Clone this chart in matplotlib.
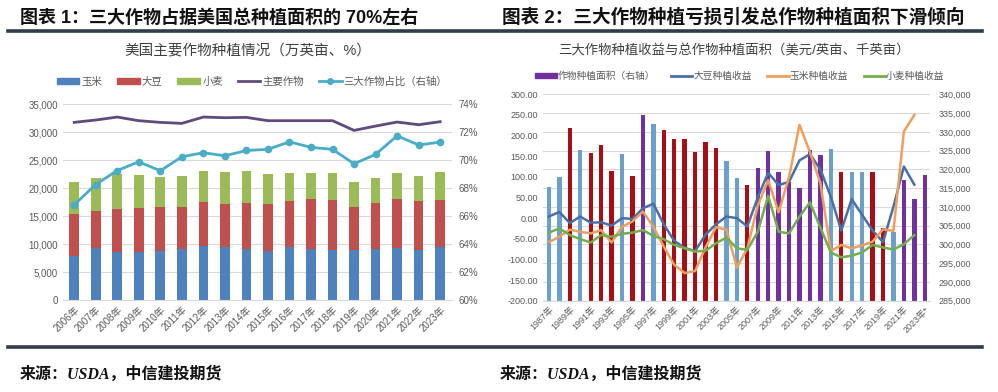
import matplotlib
matplotlib.use('Agg')
import matplotlib.pyplot as plt
import numpy as np
from matplotlib.patches import Patch
from matplotlib.lines import Line2D
from matplotlib.ticker import FuncFormatter

plt.rcParams['font.family'] = ['Liberation Sans', 'Noto Sans CJK SC', 'DejaVu Sans']

# ---------------- Chart 1 data (万英亩, %) ----------------
years1 = ['2006年', '2007年', '2008年', '2009年', '2010年', '2011年', '2012年', '2013年', '2014年',
          '2015年', '2016年', '2017年', '2018年', '2019年', '2020年', '2021年', '2022年', '2023年']
corn1 = [7830, 9350, 8600, 8640, 8820, 9190, 9730, 9540, 9060, 8800, 9400, 9020, 8890, 8970, 9070, 9340, 8860, 9460]
soy1 = [7550, 6470, 7570, 7750, 7740, 7500, 7720, 7680, 8330, 8270, 8350, 9020, 8920, 7610, 8340, 8720, 8750, 8360]
wheat1 = [5730, 6050, 6320, 5920, 5360, 5430, 5530, 5620, 5680, 5500, 5010, 4600, 4780, 4550, 4450, 4670, 4570, 4960]
main1 = [31720, 32140, 32670, 32020, 31720, 31540, 32670, 32550, 32610, 32020, 32020, 32020, 32020, 30290, 31060, 31780, 31300, 31840]
share1 = [66.8, 68.25, 69.25, 69.87, 69.23, 70.23, 70.52, 70.30, 70.68, 70.76, 71.30, 70.90, 70.76, 69.73, 70.40, 71.73, 71.07, 71.28]

# ---------------- Chart 2 data ----------------
years2 = ['1987年', '1988年', '1989年', '1990年', '1991年', '1992年', '1993年', '1994年', '1995年', '1996年',
          '1997年', '1998年', '1999年', '2000年', '2001年', '2002年', '2003年', '2004年', '2005年', '2006年',
          '2007年', '2008年', '2009年', '2010年', '2011年', '2012年', '2013年', '2014年', '2015年', '2016年',
          '2017年', '2018年', '2019年', '2020年', '2021年', '2022年', '2023年*']
area2 = [315250, 318000, 331100, 325250, 324400, 326400, 319500, 324000, 318200, 334400,
         332200, 330400, 328100, 328200, 324700, 327200, 325700, 322300, 317700, 315900,
         320300, 325000, 319200, 316600, 315000, 325250, 323800, 325400, 319300, 319200,
         319200, 319300, 304500, 303200, 317100, 312100, 318400]
area_group2 = ['LB', 'LB', 'DR', 'LB', 'DR', 'DR', 'DR', 'LB', 'DR', 'P',
               'LB', 'DR', 'DR', 'DR', 'DR', 'DR', 'DR', 'LB', 'LB', 'DR',
               'P', 'P', 'P', 'P', 'P', 'P', 'P', 'LB', 'DR', 'LB',
               'LB', 'DR', 'DR', 'LB', 'P', 'P', 'P']
soy2 = [4, 15, -12, 4, -11, -10, -18, 0, -2, 24, 35, -15, -55, -72, -80, -40, -15, 4, 0, -20,
        50, 110, 80, 88, 140, 155, 118, 52, -30, 46, 8, -30, -58, 28, 125, 81, np.nan]
corn2 = [-58, -45, -28, -33, -37, -29, -59, -21, -8, 16, -21, -69, -113, -133, -128, -71, -22, -28, -120, -73,
         30, 92, 14, 100, 226, 160, 85, -80, -65, -73, -66, -57, -27, -31, 210, 250, np.nan]
wheat2 = [-35, -25, -41, -51, -59, -41, -45, -38, -35, -29, -43, -51, -65, -73, -81, -79, -61, -47, -73, -77,
          -33, 54, -33, -37, 4, 38, -23, -83, -95, -91, -83, -65, -71, -76, -63, -41, np.nan]

# ---------------- styles ----------------
C_CORN, C_SOY, C_WHEAT = '#4F81BD', '#C0504D', '#9BBB59'
C_MAIN, C_SHARE = '#5F4B7A', '#4BACC6'
BAR_COL = {'P': '#7030A0', 'LB': '#6C9FCA', 'DR': '#A50F15'}
C_L_SOY, C_L_CORN, C_L_WHEAT = '#4A6FA5', '#EE9E5E', '#72AE4E'
GRID = '#D9D9D9'
TXT = '#595959'
W, H = 998, 392

fig = plt.figure(figsize=(W / 100, H / 100), dpi=100)

def fx(px):
    return px / W

def fy(py):
    return 1 - py / H

# headers
fig.text(fx(20), fy(18), '图表 1：三大作物占据美国总种植面积的 70%左右', fontsize=13, fontweight='bold',
         color='#111111', va='center', ha='left')
fig.text(fx(502), fy(18), '图表 2：三大作物种植亏损引发总作物种植面积下滑倾向', fontsize=13.4, fontweight='bold',
         color='#111111', va='center', ha='left')
for yy in (31, 346.5):
    fig.add_artist(Line2D([fx(8), fx(982)], [fy(yy), fy(yy)], color='#2F3E48', lw=2.6))
for xx in (20, 500):
    fig.text(fx(xx), fy(375), '来源：USDA，中信建投期货', fontsize=11.5, fontweight='bold', style='italic',
             family=['Liberation Serif', 'Noto Sans CJK SC'], color='#111111', va='center', ha='left')

# ================= Chart 1 =================
ax1 = fig.add_axes([fx(63), 92 / H, fx(452) - fx(63), 196 / H])
x1 = np.arange(len(years1))
bw = 0.45
corn_a, soy_a, wheat_a = np.array(corn1), np.array(soy1), np.array(wheat1)
ax1.bar(x1, corn_a, bw, color=C_CORN, zorder=2)
ax1.bar(x1, soy_a, bw, bottom=corn_a, color=C_SOY, zorder=2)
ax1.bar(x1, wheat_a, bw, bottom=corn_a + soy_a, color=C_WHEAT, zorder=2)
ax1.plot(x1, main1, color=C_MAIN, lw=2, zorder=3)
ax1.set_xlim(-0.52, len(years1) - 0.45)
ax1.set_ylim(0, 35000)
ax1.set_yticks(np.arange(0, 35001, 5000))
ax1.yaxis.set_major_formatter(FuncFormatter(lambda v, p: f'{v:,.0f}'))
ax1.set_xticks(x1)
ax1.set_xticklabels(years1, rotation=45, ha='right', rotation_mode='anchor', fontsize=6.5, color=TXT)
ax1.yaxis.grid(True, color=GRID, lw=0.8)
ax1.set_axisbelow(True)
for s in ('top', 'left', 'right'):
    ax1.spines[s].set_visible(False)
ax1.spines['bottom'].set_color(GRID)
ax1.tick_params(axis='both', length=0, colors=TXT, labelsize=7)
ax1.tick_params(axis='x', pad=3)

ax1b = ax1.twinx()
ax1b.plot(x1, share1, color=C_SHARE, lw=2, marker='o', ms=4.5, zorder=4)
ax1b.set_ylim(60, 74)
ax1b.set_yticks(np.arange(60, 74.1, 2))
ax1b.yaxis.set_major_formatter(FuncFormatter(lambda v, p: f'{v:.0f}%'))
for s in ax1b.spines.values():
    s.set_visible(False)
ax1b.tick_params(axis='y', length=0, colors=TXT, labelsize=7, pad=5)

fig.text(fx(248), fy(51), '美国主要作物种植情况（万英亩、%）', fontsize=10.5, color='#404040', ha='center', va='center')
h1 = [Patch(color=C_CORN), Patch(color=C_SOY), Patch(color=C_WHEAT),
      Line2D([], [], color=C_MAIN, lw=2), Line2D([], [], color=C_SHARE, lw=2, marker='o', ms=4)]
fig.legend(h1, ['玉米', '大豆', '小麦', '主要作物', '三大作物占比（右轴）'], loc='center',
           bbox_to_anchor=(fx(252), fy(81.5)), ncol=5, frameon=False, fontsize=7.5, labelcolor=TXT,
           handlelength=2.2, handleheight=0.45, handletextpad=0.2, columnspacing=1.4)

# ================= Chart 2 =================
ax3 = fig.add_axes([fx(543), 91.3 / H, fx(930) - fx(543), 206.4 / H])
ax4 = ax3.twinx()
x2 = np.arange(len(years2))
ax4.bar(x2, area2, 0.42, color=[BAR_COL[g] for g in area_group2], zorder=2)
ax4.set_ylim(285000, 340000)
ax4.set_yticks(np.arange(285000, 340001, 5000))
ax4.yaxis.set_major_formatter(FuncFormatter(lambda v, p: f'{v:,.0f}'))
ax4.yaxis.grid(True, color=GRID, lw=0.8)
ax4.set_axisbelow(True)
ax3.set_zorder(ax4.get_zorder() + 1)
ax3.patch.set_visible(False)

ax3.plot(x2, soy2, color=C_L_SOY, lw=1.8, zorder=3)
ax3.plot(x2, corn2, color=C_L_CORN, lw=1.8, zorder=3)
ax3.plot(x2, wheat2, color=C_L_WHEAT, lw=1.8, zorder=3)
ax3.set_ylim(-200, 300)
ax3.set_yticks(np.arange(-200, 300.1, 50))
ax3.yaxis.set_major_formatter(FuncFormatter(lambda v, p: f'{v:.2f}'))
ax3.set_xlim(-0.57, len(years2) - 0.5)
ax3.set_xticks(x2[::2])
ax3.set_xticklabels(years2[::2], rotation=45, ha='right', rotation_mode='anchor', fontsize=6, color=TXT)
for a in (ax3, ax4):
    for s in ('top', 'left', 'right'):
        a.spines[s].set_visible(False)
    a.spines['bottom'].set_color(GRID)
    a.tick_params(axis='both', length=0, colors=TXT, labelsize=6.5)
ax3.tick_params(axis='x', pad=3)
ax4.tick_params(axis='y', pad=6)

fig.text(fx(734), fy(51.5), '三大作物种植收益与总作物种植面积（美元/英亩、千英亩）', fontsize=9.6,
         color='#404040', ha='center', va='center')
h2 = [Patch(color=BAR_COL['P']), Line2D([], [], color=C_L_SOY, lw=2),
      Line2D([], [], color=C_L_CORN, lw=2), Line2D([], [], color=C_L_WHEAT, lw=2)]
fig.legend(h2, ['作物种植面积（右轴）', '大豆种植收益', '玉米种植收益', '小麦种植收益'], loc='center',
           bbox_to_anchor=(fx(740), fy(76)), ncol=4, frameon=False, fontsize=7, labelcolor=TXT,
           handlelength=2.2, handleheight=0.45, handletextpad=0.1, columnspacing=1.6)

fig.savefig('out.png', dpi=100, facecolor='white')
